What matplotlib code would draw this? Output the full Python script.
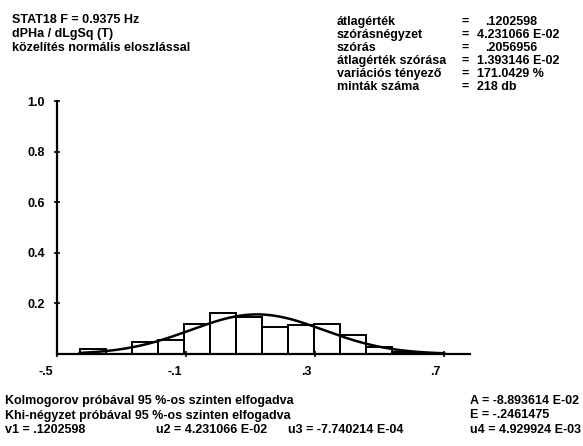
import numpy as np
import matplotlib.pyplot as plt
from matplotlib.transforms import ScaledTranslation

# histogram of dPHa / dLgSq (T), 14 classes, with the fitted normal curve
x_min, x_max = -0.43, 0.70
counts = [4, 0, 10, 12, 26, 35, 32, 23, 25, 26, 16, 6, 2, 1]
n_samples = 218
mean = 0.1202598
sd = 0.2056956

y_ticks = [0.2, 0.4, 0.6, 0.8, 1.0]
y_labels = ["0.2", "0.4", "0.6", "0.8", "1.0"]
x_ticks = [-0.5, -0.1, 0.3, 0.7]
x_labels = ["-.5", "-.1", ".3", ".7"]

header = ["STAT18 F = 0.9375 Hz", "dPHa / dLgSq (T)", "közelítés normális eloszlással"]
stat_names = ["átlagérték", "szórásnégyzet", "szórás", "átlagérték szórása",
              "variációs tényező", "minták száma"]
stat_values = [".1202598", "4.231066 E-02", ".2056956", "1.393146 E-02",
               "171.0429 %", "218 db"]
footer = ["Kolmogorov próbával 95 %-os szinten elfogadva",
          "Khi-négyzet próbával 95 %-os szinten elfogadva"]
moments = ["v1 = .1202598", "u2 = 4.231066 E-02", "u3 = -7.740214 E-04", "u4 = 4.929924 E-03"]
shape = ["A = -8.893614 E-02", "E = -.2461475"]

plt.rcParams["font.family"] = ["Liberation Sans", "DejaVu Sans"]
plt.rcParams["font.weight"] = "bold"
FS = 9

W, H = 583, 446
fig = plt.figure(figsize=(W / 100, H / 100), dpi=100)
ax = fig.add_axes([57 / W, 1 - 354 / H, (470 - 57) / W, (354 - 101) / H])

k = len(counts)
width = (x_max - x_min) / k
edges = x_min + width * np.arange(k + 1)
freq = np.array(counts) / n_samples
ax.bar(edges[:-1], freq, width=width, align="edge", fill=False,
       edgecolor="black", linewidth=1.4)

xs = np.linspace(x_min, x_max, 300)
pdf = width * np.exp(-0.5 * ((xs - mean) / sd) ** 2) / (sd * np.sqrt(2 * np.pi))
ax.plot(xs, pdf, color="black", linewidth=1.8)

ax.set_xlim(-0.5, 0.78)
ax.set_ylim(0, 1.0)
for s in ["top", "right"]:
    ax.spines[s].set_visible(False)
for s in ["left", "bottom"]:
    ax.spines[s].set_linewidth(1.6)
ax.set_yticks(y_ticks, y_labels)
ax.set_xticks(x_ticks, x_labels)
ax.tick_params(direction="inout", length=5, width=1.2, labelsize=FS)
ax.tick_params(axis="x", pad=6)
ax.tick_params(axis="y", pad=6)
shift = ScaledTranslation(-4 / 100, 0, fig.dpi_scale_trans)
for lab in ax.get_xticklabels():
    lab.set_horizontalalignment("right")
    lab.set_transform(lab.get_transform() + shift)
for lab in ax.get_xticklabels() + ax.get_yticklabels():
    lab.set_fontweight("bold")

def put(x, y, s, **kw):
    fig.text(x / W, 1 - y / H, s, fontsize=FS, fontweight="bold", va="center", **kw)

for i, s in enumerate(header):
    put(12, 20 + 14 * i, s)

for i, (name, val) in enumerate(zip(stat_names, stat_values)):
    y = 22 + 13 * i
    put(337, y, name)
    put(461, y, "=")
    put(477 if val[0] != "." else 485, y, val)

for i, s in enumerate(footer):
    put(5, 401 + 14.5 * i, s)

# right-hand column: skewness, excess and fourth moment, flush left together
right_x = 470
for i, s in enumerate(shape):
    put(right_x, 401 + 14.5 * i, s)
for x, s in zip([5, 156, 288], moments[:3]):
    put(x, 430, s)
put(right_x, 430, moments[3])

fig.savefig("out.png", dpi=100)
